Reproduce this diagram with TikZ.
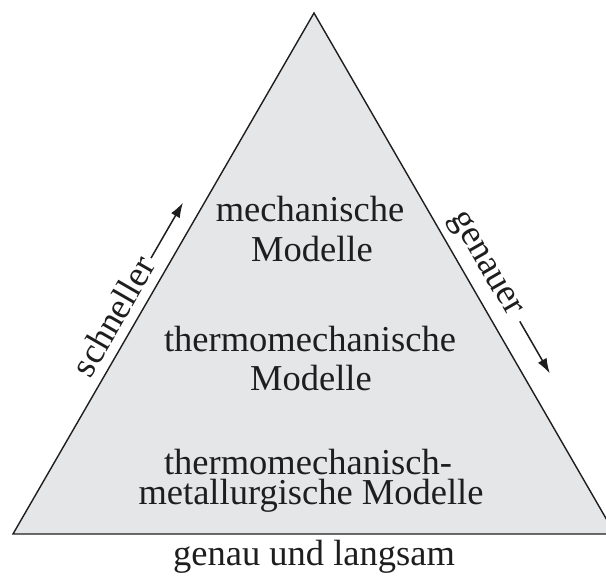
\documentclass[tikz,border=0pt]{standalone}
\usepackage{fontspec}
\setmainfont{Liberation Serif}
\newcommand{\lblfont}{\fontsize{36.5}{40}\selectfont}
\usetikzlibrary{arrows.meta}
\definecolor{trifill}{RGB}{229,230,232}
\definecolor{ink}{RGB}{30,30,30}
\tikzset{
  lbl/.style={inner sep=0pt, anchor=base, text=ink, font=\lblfont},
  sidelbl/.style={inner sep=0pt, anchor=base west, text=ink, font=\lblfont},
  dirarrow/.style={draw=ink, line width=1.5pt, -{Latex[length=15pt,width=10pt]}},
  pyramid/.style={draw=ink, fill=trifill, line width=1.4pt, line join=miter}
}
\begin{document}
\begin{tikzpicture}[x=1pt,y=1pt]
\useasboundingbox (0,0) rectangle (606,583);
\clip (0,0) rectangle (606,583);
\coordinate (A) at (314,570);
\coordinate (L) at (13,49);
\coordinate (R) at (615,49);
\draw[pyramid] (L) -- (A) -- (R) -- cycle;

\node[lbl] (m1) at (310,361) {mechanische};
\node[lbl] (m2) at (312,321) {Modelle};
\node[lbl] (t1) at (310,231) {thermomechanische};
\node[lbl] (t2) at (311,192) {Modelle};
\node[lbl] (b1) at (308,108) {thermomechanisch-};
\node[lbl] (b2) at (311,78) {metallurgische Modelle};
\node[lbl] (g) at (314,17) {genau und langsam};

\node[sidelbl, rotate=60] (s) at (90.8,203.8) {schneller};
\coordinate (s0) at (151.0,324.9);
\coordinate (s1) at (183.0,380.4);
\draw[dirarrow] (s0) -- (s1);

\node[sidelbl, rotate=-60] (gn) at (450.4,365.8) {genauer};
\coordinate (g0) at (519.8,261.6);
\coordinate (g1) at (549.8,209.6);
\draw[dirarrow] (g0) -- (g1);
\end{tikzpicture}
\end{document}
